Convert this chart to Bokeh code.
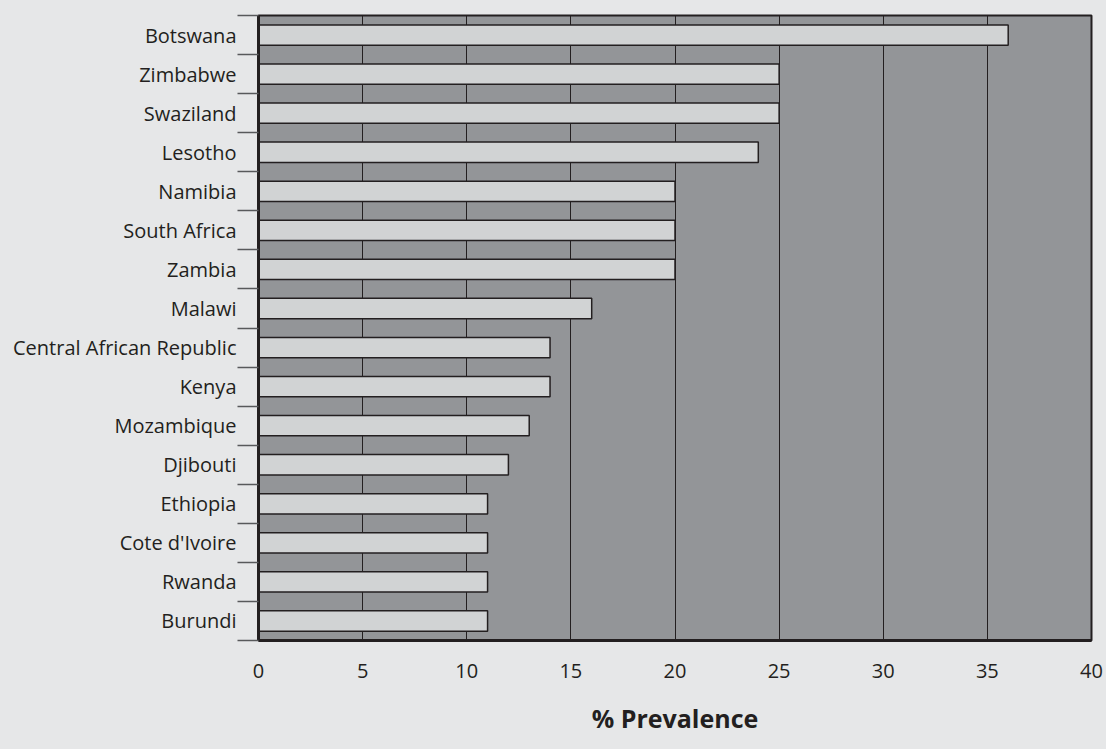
from bokeh.plotting import figure
from bokeh.models import Range1d, FixedTicker, ColumnDataSource
from bokeh.embed import file_html
from bokeh.resources import INLINE

countries = ["Botswana", "Zimbabwe", "Swaziland", "Lesotho", "Namibia", "South Africa",
             "Zambia", "Malawi", "Central African Republic", "Kenya", "Mozambique",
             "Djibouti", "Ethiopia", "Cote d'Ivoire", "Rwanda", "Burundi"]
prevalence = [36, 25, 25, 24, 20, 20, 20, 16, 14, 14, 13, 12, 11, 11, 11, 11]
x_ticks = [0, 5, 10, 15, 20, 25, 30, 35, 40]
x_title = "% Prevalence"

n = len(countries)
centers = [i + 0.5 for i in range(n)]
bounds = list(range(n + 1))

FONT = "Open Sans"
BG = "#e6e7e8"
INK = "#231f20"

p = figure(width=1106, height=749, output_backend="svg", toolbar_location=None,
           x_range=Range1d(0, 40), y_range=Range1d(n, 0),
           min_border_left=258, min_border_right=15, min_border_top=15, min_border_bottom=109)
p.border_fill_color = BG
p.background_fill_color = "#939598"
p.outline_line_color = INK
p.outline_line_width = 2

src = ColumnDataSource(dict(y=centers, v=prevalence, name=countries))
p.hbar(y="y", right="v", left=0, height=0.52, source=src,
       fill_color="#d1d3d4", line_color=INK, line_width=1.5)

# x axis
p.xaxis.ticker = FixedTicker(ticks=x_ticks)
p.xaxis.major_tick_line_color = None
p.xaxis.minor_tick_line_color = None
p.xaxis.major_tick_out = 0
p.xaxis.major_tick_in = 0
p.xaxis.axis_line_color = INK
p.xaxis.axis_line_width = 3
p.xaxis.major_label_standoff = 23
p.xaxis.major_label_text_font = FONT
p.xaxis.major_label_text_font_size = "20px"
p.xaxis.major_label_text_color = INK
p.xaxis.axis_label = x_title
p.xaxis.axis_label_text_font = FONT
p.xaxis.axis_label_text_font_size = "25px"
p.xaxis.axis_label_text_font_style = "bold"
p.xaxis.axis_label_text_color = INK
p.xaxis.axis_label_standoff = 20

# y axis
p.yaxis.ticker = FixedTicker(ticks=centers, minor_ticks=bounds)
p.yaxis.major_label_overrides = {c: name for c, name in zip(centers, countries)}
p.yaxis.major_tick_line_color = None
p.yaxis.major_tick_out = 0
p.yaxis.major_tick_in = 0
p.yaxis.minor_tick_line_color = "#58595b"
p.yaxis.minor_tick_line_width = 1.5
p.yaxis.minor_tick_out = 21
p.yaxis.minor_tick_in = 0
p.yaxis.axis_line_color = INK
p.yaxis.axis_line_width = 3
p.yaxis.major_label_standoff = 1
p.yaxis.major_label_text_font = FONT
p.yaxis.major_label_text_font_size = "20px"
p.yaxis.major_label_text_color = INK

# grid
p.xgrid.ticker = FixedTicker(ticks=x_ticks)
p.xgrid.grid_line_color = INK
p.xgrid.grid_line_width = 1
p.ygrid.grid_line_color = None

html = file_html(p, INLINE).replace(
    "<head>", "<head><style>html,body{margin:0;padding:0;background:%s;}</style>" % BG, 1)
open("out.html", "w").write(html)
